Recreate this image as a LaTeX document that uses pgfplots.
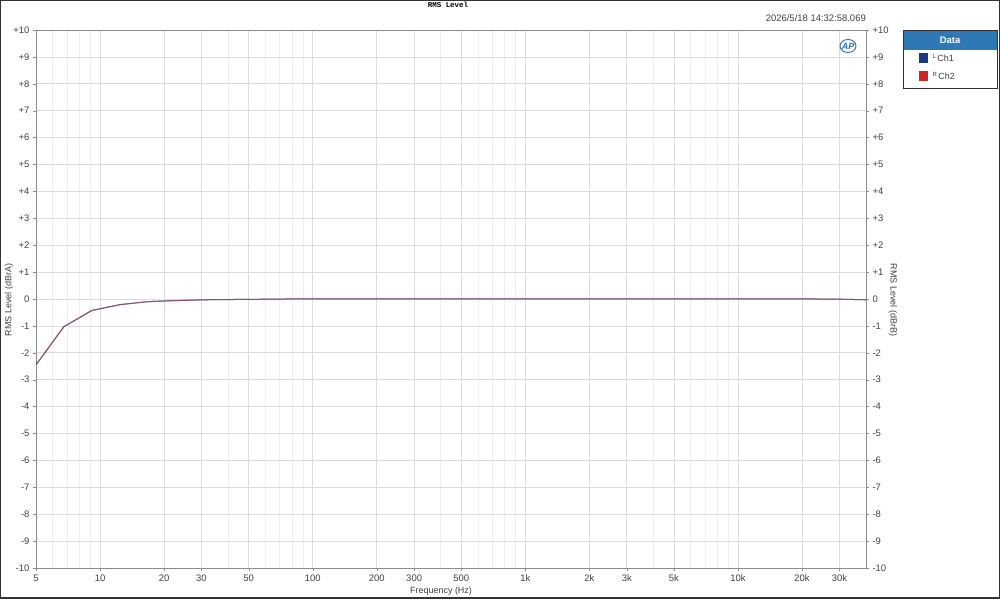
\documentclass[border=0pt]{standalone}
\usepackage{pgfplots}
\pgfplotsset{compat=1.18}
\usepackage{fontspec}
\setmainfont{Liberation Sans}
\newfontfamily\monofont{Liberation Mono}
\definecolor{chone}{RGB}{31,56,130}
\definecolor{chtwo}{RGB}{200,40,40}
\definecolor{chtwoline}{RGB}{205,95,95}
\definecolor{gridmaj}{RGB}{220,220,220}
\definecolor{gridmin}{RGB}{238,238,238}
\definecolor{ticktxt}{RGB}{64,64,64}
\definecolor{hdrblue}{RGB}{46,120,182}
\definecolor{apblue}{RGB}{40,110,190}

\begin{document}
\begin{tikzpicture}[x=1bp,y=1bp]
  \useasboundingbox (0,0) rectangle (1000,599);
  \fill[white] (0,0) rectangle (1000,599);

  \begin{semilogxaxis}[
      scale only axis,
      width=830bp, height=538bp,
      at={(36bp,31bp)}, anchor=south west,
      xmin=5, xmax=40000,
      ymin=-10, ymax=10,
      ytick={-10,-9,...,10},
      yticklabels={-10,-9,-8,-7,-6,-5,-4,-3,-2,-1,0,+1,+2,+3,+4,+5,+6,+7,+8,+9,+10},
      xtick={5,10,20,30,50,100,200,300,500,1000,2000,3000,5000,10000,20000,30000},
      xticklabels={5,10,20,30,50,100,200,300,500,1k,2k,3k,5k,10k,20k,30k},
      minor xtick={6,7,8,9,40,60,70,80,90,400,600,700,800,900,4000,6000,7000,8000,9000,40000},
      axis line style={color=black!45, line width=0.8bp},
      tick style={color=black!45},
      tick align=outside,
      major tick length=3bp,
      minor tick length=0bp,
      tick label style={font=\fontsize{9.5}{10}\selectfont, text=ticktxt},
      xmajorgrids, ymajorgrids, xminorgrids,
      major grid style={color=gridmaj, line width=0.7bp},
      minor grid style={color=gridmin, line width=0.7bp},
      xtick pos=bottom, ytick pos=left,
      xlabel={Frequency (Hz)},
      xlabel style={font=\fontsize{9}{10}\selectfont, text=ticktxt,
        at={(axis description cs:0.488,0)}, anchor=north, yshift=-15bp},
    ]
    \addplot[chone, line width=1bp] coordinates {
      (5,-2.45) (6.76,-1.03) (9.14,-0.43) (12.4,-0.21) (16.7,-0.10)
      (22.6,-0.06) (30.5,-0.03) (41.3,-0.02) (55.8,-0.01) (75.5,0)
      (102,0) (138,0) (186,0) (252,0) (341,0) (461,0) (623,0) (842,0)
      (1139,0) (1540,0) (2082,0) (2815,0) (3806,0) (5145,0) (6957,0)
      (9405,0) (12716,0) (17191,0) (23241,0) (31421,-0.01) (40000,-0.03)
    };
    \addplot[chtwoline, line width=1bp, opacity=0.62] coordinates {
      (5,-2.45) (6.76,-1.03) (9.14,-0.43) (12.4,-0.21) (16.7,-0.10)
      (22.6,-0.06) (30.5,-0.03) (41.3,-0.02) (55.8,-0.01) (75.5,0)
      (102,0) (138,0) (186,0) (252,0) (341,0) (461,0) (623,0) (842,0)
      (1139,0) (1540,0) (2082,0) (2815,0) (3806,0) (5145,0) (6957,0)
      (9405,0) (12716,0) (17191,0) (23241,0) (31421,-0.01) (40000,-0.03)
    };
  \end{semilogxaxis}

  \begin{axis}[
      scale only axis,
      width=830bp, height=538bp,
      at={(36bp,31bp)}, anchor=south west,
      xmin=0, xmax=1,
      ymin=-10, ymax=10,
      hide x axis,
      axis y line*=right,
      ytick={-10,-9,...,10},
      yticklabels={-10,-9,-8,-7,-6,-5,-4,-3,-2,-1,0,+1,+2,+3,+4,+5,+6,+7,+8,+9,+10},
      axis line style={color=black!45, line width=0.8bp},
      tick style={color=black!45},
      tick align=outside,
      major tick length=3bp,
      tick label style={font=\fontsize{9.5}{10}\selectfont, text=ticktxt},
    ]
  \end{axis}

  % axis titles
  \node[font=\fontsize{9}{10}\selectfont, text=ticktxt, rotate=90] at (9,299) {RMS Level (dBrA)};
  \node[font=\fontsize{9}{10}\selectfont, text=ticktxt, rotate=-90] at (893,299) {RMS Level (dBrB)};

  % title and time stamp
  \node[font=\monofont\fontsize{7.5}{8}\selectfont\bfseries, anchor=center] at (448,594) {RMS Level};
  \node[font=\fontsize{9.5}{11}\selectfont, text=ticktxt, anchor=base east, inner sep=0pt] at (866,577) {2026/5/18 14:32:58.069};
  % AP mark
  \draw[apblue, line width=0.9bp] (848,553) ellipse (8 and 6.5);
  \node[font=\fontsize{9}{10}\selectfont\bfseries\itshape, text=apblue] at (848,553) {AP};

  % legend
  \fill[hdrblue] (903.4,549) rectangle (996.6,568.6);
  \draw[black!80, line width=0.8bp] (903,511) rectangle (997,569);
  \node[font=\fontsize{9.5}{11}\selectfont\bfseries, text=white] at (950,559) {Data};
  \fill[chone] (919,536) rectangle (928,546);
  \node[font=\fontsize{9}{10}\selectfont, text=ticktxt, anchor=west] at (929,541) {\raisebox{3bp}{\fontsize{6}{7}\selectfont L}\,Ch1};
  \fill[chtwo] (919,518) rectangle (928,528);
  \node[font=\fontsize{9}{10}\selectfont, text=ticktxt, anchor=west] at (929,523) {\raisebox{3bp}{\fontsize{6}{7}\selectfont R}\,Ch2};

  % outer frame
  \draw[black!80, line width=1.5bp] (0.75,0.75) rectangle (999.25,598.25);
\end{tikzpicture}
\end{document}
